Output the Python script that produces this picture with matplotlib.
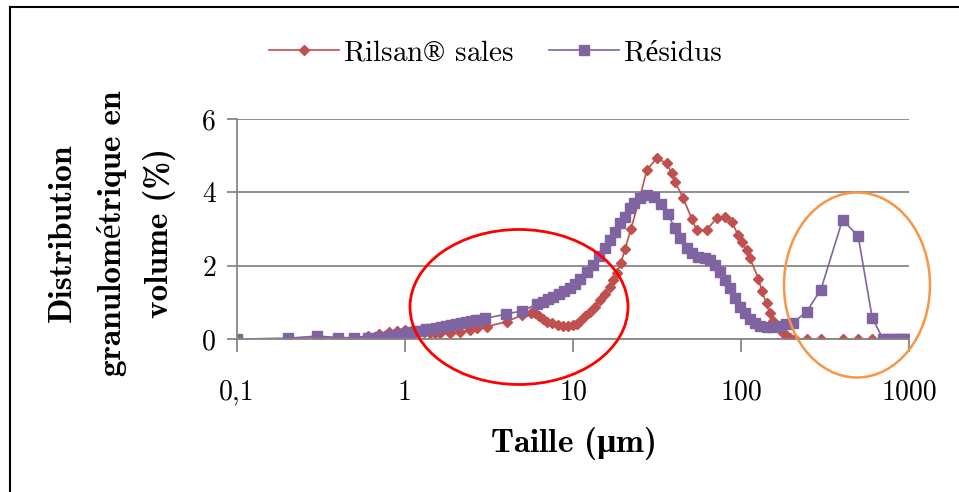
import matplotlib
matplotlib.use("Agg")
import matplotlib.pyplot as plt
from matplotlib.patches import Ellipse
from matplotlib.lines import Line2D

# particle size (um) and volume fraction (%) for each sample
rilsan_size = [0.1, 0.2, 0.3, 0.4, 0.5, 0.6, 0.7, 0.8, 0.9,
               1.0, 1.1, 1.2, 1.3, 1.4, 1.5, 1.62, 1.85, 2.13, 2.44, 2.67, 3.06, 4.03,
               5.0, 5.6, 5.9, 6.3, 6.6, 7.0, 7.5, 8.1, 8.7, 9.3, 10.0, 10.6, 11.0,
               11.8, 12.6, 13.5, 14.5, 15.5, 16.6, 17.3, 18.2, 19.3, 20.4, 22.1,
               25.1, 27.5, 31.5, 36.1, 38.7, 40.5, 45.3, 51.1, 54.5, 62.5, 71.5,
               80.8, 88.0, 96.1, 101, 108, 113, 127, 133, 142, 148, 155, 163, 170,
               178, 186, 195, 209, 246, 299, 402, 498, 604, 700, 800, 900, 1000]
rilsan_vol = [0.00, 0.01, 0.03, 0.03, 0.04, 0.08, 0.14, 0.20, 0.23,
              0.24, 0.23, 0.21, 0.19, 0.17, 0.16, 0.155, 0.17, 0.20, 0.25, 0.29, 0.34, 0.47,
              0.66, 0.72, 0.70, 0.62, 0.54, 0.47, 0.43, 0.39, 0.36, 0.35, 0.38, 0.41, 0.50,
              0.63, 0.75, 0.88, 1.06, 1.22, 1.43, 1.60, 1.80, 2.08, 2.45, 3.00,
              3.88, 4.61, 4.93, 4.79, 4.52, 4.29, 3.84, 3.26, 2.97, 2.97, 3.30,
              3.34, 3.20, 2.84, 2.65, 2.43, 2.20, 1.65, 1.30, 0.97, 0.70, 0.50, 0.36, 0.28,
              0.16, 0.10, 0.02, 0, 0, 0, 0, 0, 0, 0, 0, 0, 0]

residus_size = [0.1, 0.2, 0.3, 0.4, 0.5, 0.6, 0.7, 0.8, 0.9,
                0.95, 1.02, 1.09, 1.17, 1.25, 1.34, 1.43, 1.53, 1.64, 1.76, 1.88, 2.01,
                2.15, 2.31, 2.47, 2.64, 2.8, 3.0, 4.0, 5.0, 6.1, 6.6, 7.1, 7.6, 8.3, 8.9,
                9.6, 10.3, 11.0, 12.1, 13.2, 14.3, 15.5, 16.6, 17.8, 19.0, 20.4, 21.8,
                23.1, 25.1, 27.7, 30.5, 33.4, 36.7, 40.5, 43.4, 47.5, 51.1, 55.6, 61.1,
                65.3, 70.2, 75.3, 80.8, 86.5, 92.0, 98.6, 105.6, 113, 121, 130, 142,
                155, 170, 186, 203, 246, 299, 402, 498, 604, 700, 750, 800, 850, 900,
                950, 1000]
residus_vol = [0.00, 0.02, 0.08, 0.04, 0.03, 0.04, 0.06, 0.09, 0.12,
               0.15, 0.17, 0.19, 0.21, 0.23, 0.26, 0.28, 0.31, 0.33, 0.36, 0.39, 0.41,
               0.44, 0.46, 0.49, 0.51, 0.53, 0.56, 0.68, 0.77, 0.95, 1.02, 1.08, 1.15, 1.23, 1.31,
               1.40, 1.50, 1.65, 1.84, 2.02, 2.26, 2.47, 2.70, 2.93, 3.16, 3.34, 3.56,
               3.70, 3.84, 3.93, 3.88, 3.68, 3.40, 3.02, 2.75, 2.47, 2.34, 2.24, 2.20,
               2.15, 2.02, 1.84, 1.61, 1.38, 1.11, 0.88, 0.70, 0.54, 0.43, 0.35, 0.32,
               0.32, 0.35, 0.41, 0.43, 0.75, 1.35, 3.25, 2.81, 0.58, 0, 0, 0, 0, 0,
               0, 0]

x_ticks = [0.1, 1, 10, 100, 1000]
x_labels = ["0,1", "1", "10", "100", "1000"]
y_ticks = [0, 2, 4, 6]

# cmr10/cmb10 put TeX glyphs at the ® and µ code points, so those two
# characters go through mathtext with a regular serif font
plt.rcParams["mathtext.fontset"] = "custom"
plt.rcParams["mathtext.rm"] = "Liberation Serif"
plt.rcParams["mathtext.bf"] = "Liberation Serif:bold"

serif = ["cmr10", "Liberation Serif"]
serif_bold = ["cmb10", "Liberation Serif"]
grey = "#878787"

W, H = 959, 492
fig = plt.figure(figsize=(W / 100, H / 100), dpi=100)
ax = fig.add_axes([237 / W, 1 - 339 / H, 672 / W, 220 / H])

ax.plot(rilsan_size, rilsan_vol, color="#C0504D", lw=1.2, marker="D",
        ms=5.5, mec="#C0504D", label=r"Rilsan$\mathrm{®}$ sales")
ax.plot(residus_size, residus_vol, color="#8064A2", lw=1.2, marker="s",
        ms=7, mec="#8064A2", label="Résidus")

ax.set_xscale("log")
ax.set_xlim(0.1, 1000)
ax.set_ylim(0, 6)
ax.set_xticks(x_ticks)
ax.set_xticklabels(x_labels)
ax.xaxis.set_minor_locator(matplotlib.ticker.NullLocator())
ax.set_yticks(y_ticks)
ax.set_yticklabels([str(v) for v in y_ticks])
for lab in ax.get_xticklabels() + ax.get_yticklabels():
    lab.set_family(serif)
    lab.set_fontsize(20)

ax.yaxis.grid(True, color=grey, lw=1.3)
ax.set_axisbelow(True)
for side in ("top", "right"):
    ax.spines[side].set_visible(False)
for side in ("left", "bottom"):
    ax.spines[side].set_color(grey)
    ax.spines[side].set_linewidth(1.3)
ax.tick_params(axis="x", length=9, width=1.3, color=grey, pad=20)
ax.tick_params(axis="y", length=7, width=1.3, color=grey, pad=8)

ax.set_xlabel(r"Taille ($\mathbf{µ}$m)", family=serif_bold, fontsize=24, labelpad=14)

# three-line y label, placed line by line
ylab_lines = ["Distribution", "granulométrique en", "volume (%)"]
for xpos, txt in zip([62, 112, 160], ylab_lines):
    fig.text(xpos / W, 1 - 233 / H, txt, rotation=90, ha="center", va="center",
             family=serif_bold, fontsize=24)

leg = ax.legend(loc="center", bbox_to_anchor=(495 / W, 1 - 53 / H),
                bbox_transform=fig.transFigure, ncol=2, frameon=False,
                numpoints=1, handlelength=2.4, handletextpad=0.15,
                columnspacing=1.2, prop={"family": serif, "size": 21})

# highlighted regions
fig.add_artist(Ellipse((519 / W, 1 - 307 / H), 218 / W, 155 / H,
                       transform=fig.transFigure, fill=False,
                       edgecolor="#FF0000", lw=2))
fig.add_artist(Ellipse((857 / W, 1 - 285 / H), 146 / W, 185 / H,
                       transform=fig.transFigure, fill=False,
                       edgecolor="#F79646", lw=1.8))

# frame around the chart
fig.add_artist(Line2D([10 / W, 10 / W], [0, 1 - 6.5 / H], transform=fig.transFigure,
                      color="black", lw=1.5))
fig.add_artist(Line2D([10 / W, 1], [1 - 6.5 / H, 1 - 6.5 / H], transform=fig.transFigure,
                      color="black", lw=1.5))

fig.savefig("out.png", dpi=100)
